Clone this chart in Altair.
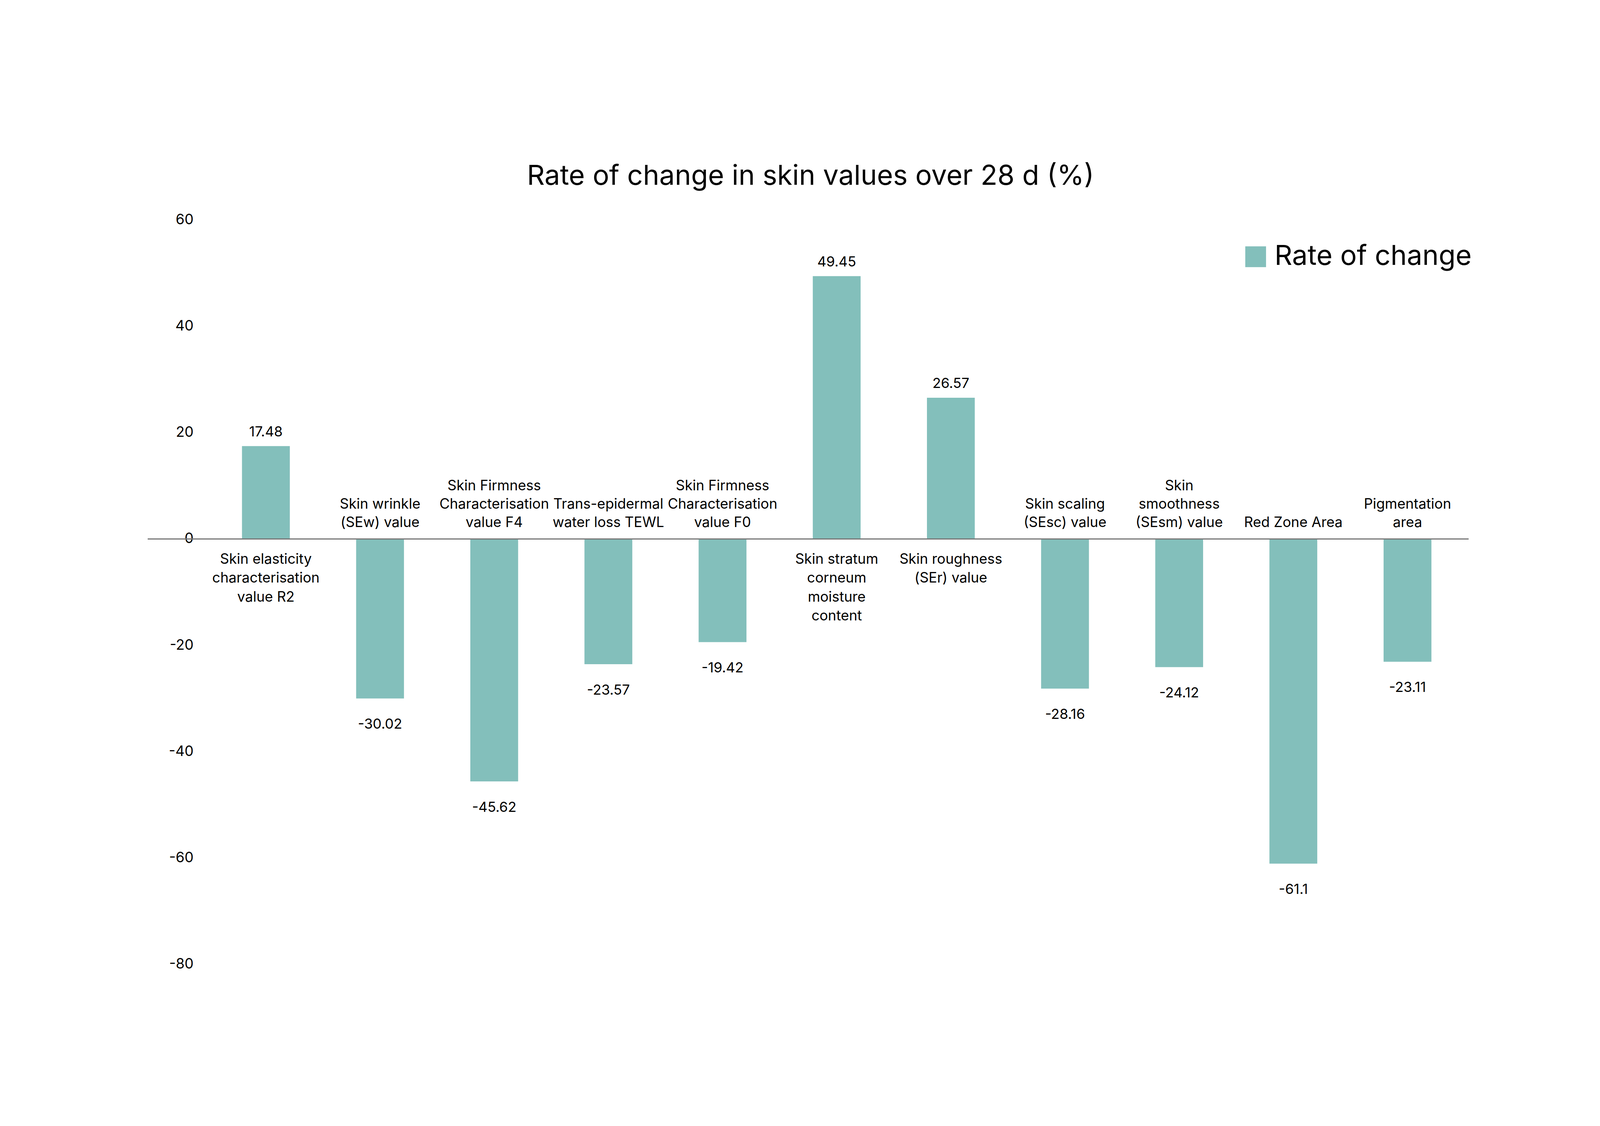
import altair as alt
import pandas as pd

categories = [
    "Skin elasticity\ncharacterisation\nvalue R2",
    "Skin wrinkle\n(SEw) value",
    "Skin Firmness\nCharacterisation\nvalue F4",
    "Trans-epidermal\nwater loss TEWL",
    "Skin Firmness\nCharacterisation\nvalue F0",
    "Skin stratum\ncorneum\nmoisture\ncontent",
    "Skin roughness\n(SEr) value",
    "Skin scaling\n(SEsc) value",
    "Skin\nsmoothness\n(SEsm) value",
    "Red Zone Area",
    "Pigmentation\narea",
]
values = [17.48, -30.02, -45.62, -23.57, -19.42, 49.45, 26.57, -28.16, -24.12, -61.1, -23.11]
value_labels = ["17.48", "-30.02", "-45.62", "-23.57", "-19.42", "49.45", "26.57", "-28.16", "-24.12", "-61.1", "-23.11"]
series_name = "Rate of change"
y_ticks = [-80, -60, -40, -20, 0, 20, 40, 60]
title_text = "Rate of change in skin values over 28 d (%)"

df = pd.DataFrame({
    "category": categories,
    "value": values,
    "label": value_labels,
    "series": [series_name] * len(categories),
    "nlines": [c.count("\n") + 1 for c in categories],
})

FONT = "Inter"
BAR = "#83bfbb"
CAT_FS = 47.5
LH = 64

x_enc = alt.X("category:N", sort=categories,
              scale=alt.Scale(paddingInner=0.581, paddingOuter=0.576, align=0.717), axis=None)
y_scale = alt.Scale(domain=[-80, 60], nice=False)

base = alt.Chart(df)

bars = base.mark_bar().encode(
    x=x_enc,
    y=alt.Y("value:Q", scale=y_scale,
            axis=alt.Axis(values=y_ticks, title=None, domain=False, ticks=False, grid=False,
                          labelFontSize=48, labelPadding=0, offset=-154, labelFont=FONT,
                          labelColor="#000", labelExpr="toString(datum.value)")),
    color=alt.Color("series:N", scale=alt.Scale(range=[BAR]),
                    legend=alt.Legend(title=None, orient="none", legendX=3686, legendY=77,
                                      symbolType="square", symbolSize=4900, symbolStrokeWidth=0,
                                      labelFontSize=93, labelFont=FONT, labelOffset=17,
                                      labelColor="#000", padding=0, labelLimit=2000)),
)

zero_rule = alt.Chart(pd.DataFrame({"zero": [0]})).mark_rule(color="#777777", strokeWidth=4).encode(
    y=alt.Y("zero:Q", scale=y_scale),
)

pos_vals = base.transform_filter("datum.value >= 0").mark_text(
    baseline="alphabetic", dy=-33, fontSize=47, font=FONT, color="#000"
).encode(x=x_enc, y=alt.Y("value:Q", scale=y_scale), text="label:N")

neg_vals = base.transform_filter("datum.value < 0").mark_text(
    baseline="alphabetic", dy=102, fontSize=47, font=FONT, color="#000"
).encode(x=x_enc, y=alt.Y("value:Q", scale=y_scale), text="label:N")

pos_cats = base.transform_filter("datum.value >= 0").mark_text(
    baseline="alphabetic", dy=83, fontSize=CAT_FS, font=FONT, color="#000", lineBreak="\n", lineHeight=LH
).encode(x=x_enc, y=alt.datum(0), text="category:N")

neg_layers = []
for n in (1, 2, 3):
    neg_layers.append(
        base.transform_filter(f"datum.value < 0 && datum.nlines == {n}").mark_text(
            baseline="alphabetic", dy=-40 - (n - 1) * 62, fontSize=CAT_FS, font=FONT, color="#000",
            lineBreak="\n", lineHeight=62
        ).encode(x=x_enc, y=alt.datum(0), text="category:N")
    )

chart = alt.layer(bars, zero_rule, pos_vals, neg_vals, pos_cats, *neg_layers).properties(
    width=5369,
    height=2866,
    autosize=alt.AutoSizeParams(type="fit", contains="padding"),
    padding={"left": 485, "top": 85, "right": 430, "bottom": 58},
    title=alt.TitleParams(text=title_text, fontSize=93, font=FONT, fontWeight="normal",
                          color="#000", anchor="middle", dx=8, offset=2, baseline="alphabetic"),
).configure(background="white").configure_view(stroke=None)

chart.save("out.html", embed_options={"renderer": "svg", "actions": False})
